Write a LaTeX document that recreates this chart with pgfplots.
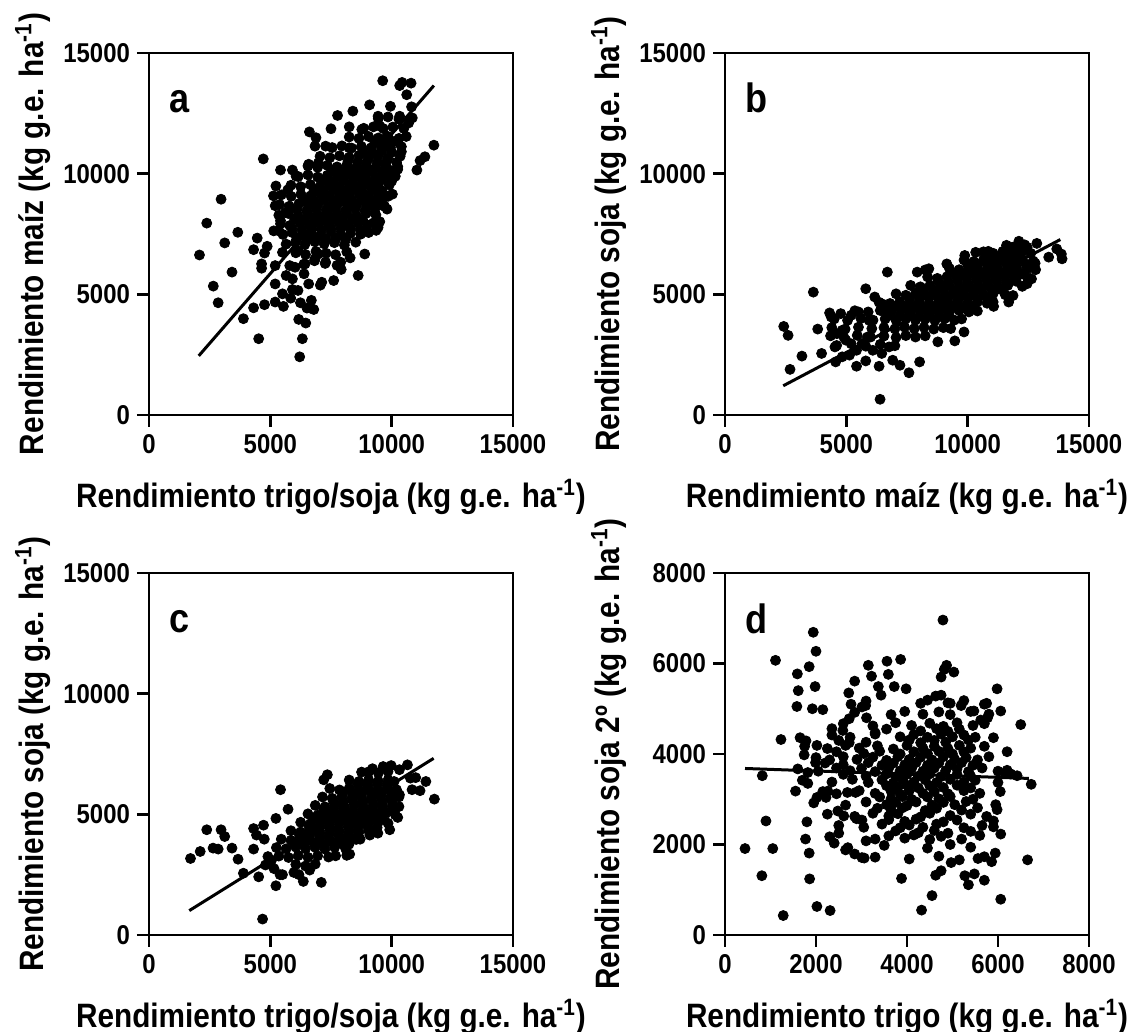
\documentclass[border=0pt]{standalone}
\usepackage{pgfplots}
\pgfplotsset{compat=1.18}
\usepackage{fontspec}
\setmainfont{Liberation Sans}[FakeStretch=0.88]
\begin{document}
\begin{tikzpicture}
\pgfplotsset{
  panel/.style={
    scale only axis, width=182pt, height=181pt,
    axis line style={line width=1.4pt},
    every tick/.style={line width=1.4pt, black},
    tick align=outside, major tick length=6pt,
    xtick pos=bottom, ytick pos=left,
    minor tick num=0, scaled ticks=false,
    /pgf/number format/assume math mode=true,
    /pgf/number format/set thousands separator={},
    tick label style={font=\fontsize{13.6}{15}\selectfont\bfseries},
    every axis y label/.style={at={(axis description cs:-0.3187,0.5)}, rotate=90, anchor=center, font=\fontsize{16.9}{19}\selectfont\bfseries},
    every axis x label/.style={at={(axis description cs:0.5,-0.2265)}, anchor=center, font=\fontsize{16.9}{19}\selectfont\bfseries},
  },
  dots/.style={only marks, mark=*, mark size=2.5pt, black, mark options={draw=black, fill=black}},
  fit/.style={no marks, black, line width=1.5pt},
}
\tikzset{letter/.style={anchor=base west, inner sep=0pt, font=\fontsize{20.5}{22}\selectfont\bfseries, xshift=10pt, yshift=-30pt}}
\useasboundingbox (0,0) rectangle (568pt,516pt);

% ---------------- panel a ----------------
\begin{axis}[panel, at={(74.5pt,308.5pt)}, anchor=south west,
  xmin=0, xmax=15000, ymin=0, ymax=15000,
  xtick={0,5000,10000,15000}, ytick={0,5000,10000,15000},
  xlabel={Rendimiento trigo/soja (kg g.e. ha\textsuperscript{-1})},
  ylabel={Rendimiento maíz (kg g.e. ha\textsuperscript{-1})}]
\addplot[dots] coordinates {
(9630,13850) (10330,13650) (10430,13780) (10800,13750) (10620,13270) (10820,12770) (10850,12310) (10700,12100) (10330,12380) (9950,12790)
(9090,12850) (8400,12590) (7770,12410) (7500,11860) (6610,11730) (6880,11490) (11740,11180) (11370,10700) (11170,10540) (11040,10150)
(10250,10180) (10030,9150) (9810,8530) (9700,8650) (9510,8010) (9440,7770) (9360,7650) (8890,6670) (8620,5780) (8290,6510)
(7900,6330) (7920,6030) (7610,5570) (7120,5500) (7060,5380) (6790,4370) (6650,4430) (6510,4430) (6460,3810) (6170,3960)
(6320,3160) (6210,2410) (6240,4650) (6690,4750) (6580,5430) (6390,5850) (6140,5160) (5910,5200) (5840,4840) (5500,5020)
(5540,4500) (5200,4680) (5200,5430) (4760,4570) (4310,4440) (4520,3160) (3890,3990) (3420,5920) (2850,4650) (2650,5340)
(2080,6630) (2380,7950) (2970,8940) (3120,7130) (3660,7570) (4310,6850) (4460,7330) (4760,6710) (4870,6990) (4640,6260)
(4640,6080) (4710,10610) (5420,10150) (5230,9490) (5130,9080) (5200,8670) (5140,7630) (5420,8050) (5350,7630) (5620,8390)
(5720,9330) (5910,10150) (6060,9900) (6980,10450) (6580,10390) (6840,11140) (7280,11140) (8250,11070) (8250,11940) (8770,11830)
(9510,11970) (9440,12380) (9810,11550)
(5200,6190) (5650,5780) (5800,6190) (6020,6120) (5910,5640) (5500,6740) (6140,6810) (6430,6260) (6840,6470) (7280,6330) (6980,6670)
(6380,6250) (6820,6390) (7260,6280) (7750,6200)
(6050,6720) (6450,6650) (6880,6780) (7300,6700) (7690,6640) (8150,6760)
(5650,7080) (6030,7150) (6420,7060) (6830,7180) (7220,7090) (7640,7140) (8050,7040) (8520,7160)
(5520,7480) (5900,7560) (6300,7450) (6700,7530) (7100,7470) (7500,7580) (7900,7460) (8300,7520) (8720,7490) (9050,7560)
(5420,7920) (5800,7850) (6220,7960) (6610,7880) (7010,7940) (7420,7860) (7810,7970) (8200,7880) (8600,7950) (9000,7870) (9250,7960)
(5350,8280) (5740,8350) (6150,8260) (6560,8330) (6950,8270) (7360,8360) (7760,8280) (8150,8340) (8550,8260) (8950,8350) (9350,8290)
(5380,8720) (5780,8650) (6180,8760) (6570,8680) (6980,8740) (7380,8660) (7780,8750) (8180,8680) (8580,8740) (8980,8660) (9380,8720) (9700,8650)
(5450,9120) (5860,9060) (6260,9150) (6660,9080) (7060,9140) (7460,9060) (7860,9130) (8260,9070) (8660,9150) (9060,9080) (9460,9130) (9850,9060)
(5850,9520) (6250,9460) (6650,9550) (7050,9480) (7450,9540) (7850,9460) (8250,9530) (8650,9470) (9050,9550) (9450,9480) (9900,9530)
(6150,9880) (6550,9950) (6950,9860) (7350,9930) (7750,9870) (8150,9950) (8550,9880) (8950,9940) (9350,9860) (9750,9930) (10150,9890)
(6550,10320) (6950,10260) (7350,10340) (7750,10280) (8150,10350) (8550,10260) (8950,10330) (9350,10270) (9750,10340) (10250,10290)
(7050,10720) (7450,10660) (7850,10740) (8250,10680) (8650,10750) (9050,10670) (9450,10730) (9850,10660) (10350,10720)
(7550,11080) (7950,11150) (8350,11060) (8750,11130) (9150,11070) (9550,11140) (9950,11080) (10400,11120)
(8250,11520) (8650,11460) (9050,11540) (9450,11480) (9850,11530) (10300,11460) (10600,11540)
(8850,11880) (9250,11940) (9650,11870) (10050,11930) (10500,11870)
(9450,12280) (9850,12350) (10300,12260)
(6100,7320) (6500,7270) (6900,7340) (7300,7280) (7700,7330) (8100,7260)
(5900,7720) (6300,7680) (6700,7740) (7100,7670) (7500,7730) (7900,7690) (8300,7720) (8700,7670)
(6000,8120) (6400,8070) (6800,8140) (7200,8080) (7600,8130) (8000,8060) (8400,8120) (8800,8090)
(6100,8520) (6500,8470) (6900,8540) (7300,8480) (7700,8530) (8100,8470) (8500,8540) (8900,8480) (9300,8520)
(6400,8920) (6800,8870) (7200,8940) (7600,8880) (8000,8930) (8400,8870) (8800,8940) (9200,8880) (9600,8910)
(6800,9320) (7200,9270) (7600,9340) (8000,9280) (8400,9330) (8800,9270) (9200,9340) (9600,9290)
(7200,9720) (7600,9670) (8000,9740) (8400,9680) (8800,9730) (9200,9670) (9600,9740) (10000,9690)
(7600,10120) (8000,10070) (8400,10140) (8800,10080) (9200,10130) (9600,10070) (10000,10120)
(8200,10520) (8600,10470) (9000,10540) (9400,10480) (9800,10530) (10200,10470)
(8800,10920) (9200,10870) (9600,10940) (10000,10880) (10400,10910)
(9300,11320) (9700,11270) (10100,11330)
};
\addplot[fit] coordinates {(2050,2450) (11740,13650)};
\node[letter] at (rel axis cs:0,1) {a};
\end{axis}

% ---------------- panel b ----------------
\begin{axis}[panel, at={(362.5pt,308.5pt)}, anchor=south west,
  xmin=0, xmax=15000, ymin=0, ymax=15000,
  xtick={0,5000,10000,15000}, ytick={0,5000,10000,15000},
  xlabel={Rendimiento maíz (kg g.e. ha\textsuperscript{-1})},
  ylabel={Rendimiento soja (kg g.e. ha\textsuperscript{-1})}]
\addplot[dots] coordinates {
(2420,3670) (2600,3300) (2680,1890) (3170,2440) (3640,5090) (3820,3560) (3980,2550) (4310,4230) (4770,4200) (4560,2200)
(5130,2480) (5420,2020) (5800,2240) (6350,2020) (6390,650) (6690,5920) (7210,2060) (7580,1750) (8020,2200) (5800,5230)
(8770,3030) (9470,3070) (9850,3440) (11070,4500) (11690,4680) (11870,4950) (12450,5440) (12630,5640) (12780,6290) (13340,6540)
(13670,6880) (13860,6670) (13890,6470) (12850,7110) (12110,7200) (11840,6950) (12450,6950) (8250,6010) (8400,6060) (7920,5920)
(9140,6260) (9880,6610) (10330,6740) (10850,6780)
(4380,4060) (4610,3370) (4830,3510) (4530,2820) (4980,3100) (5420,2680) (5650,2960) (5870,3230) (6090,2680) (6460,2550)
(6760,2820) (6910,2270) (4830,2410) (5200,4130) (5500,4270) (5940,3920) (6170,4890) (6460,4610) (6610,4340)
(4600,2880) (5200,2950) (5800,2850) (6400,2930) (7000,2870)
(4350,3280) (4900,3220) (5450,3300) (6000,3230) (6550,3270) (7050,3210) (7450,3290) (7850,3230) (8250,3280)
(4400,3620) (4950,3560) (5500,3640) (6050,3580) (6550,3620) (7000,3570) (7400,3640) (7800,3580) (8200,3630) (8600,3560) (9000,3620) (9300,3580)
(4500,3980) (5050,3920) (5600,4000) (6100,3930) (6600,3980) (7050,3920) (7450,3990) (7850,3930) (8250,3970) (8650,3910) (9050,3990) (9450,3930) (9750,3980)
(5350,4320) (5900,4270) (6400,4330) (6850,4260) (7250,4320) (7650,4270) (8050,4340) (8450,4260) (8850,4320) (9250,4270) (9650,4330) (10050,4270) (10400,4310)
(6350,4670) (6800,4620) (7200,4690) (7600,4620) (8000,4680) (8400,4610) (8800,4670) (9200,4630) (9600,4690) (10000,4620) (10400,4680) (10800,4630) (11050,4680)
(7050,5020) (7450,4960) (7850,5040) (8250,4970) (8650,5030) (9050,4960) (9450,5040) (9850,4970) (10250,5030) (10650,4960) (11050,5030) (11550,4980)
(7650,5370) (8050,5310) (8450,5380) (8850,5320) (9250,5380) (9650,5310) (10050,5370) (10450,5310) (10850,5380) (11250,5320) (11650,5370) (12250,5330)
(8350,5720) (8750,5660) (9150,5730) (9550,5670) (9950,5720) (10350,5660) (10750,5730) (11150,5670) (11550,5720) (11950,5660) (12450,5710)
(9250,6070) (9650,6020) (10050,6080) (10450,6010) (10850,6070) (11250,6020) (11650,6080) (12050,6010) (12450,6060) (12800,6020)
(9850,6420) (10250,6360) (10650,6430) (11050,6370) (11450,6420) (11850,6360) (12250,6430) (12700,6380)
(10650,6760) (11050,6700) (11450,6780) (11850,6720) (12250,6770) (12600,6700)
(11600,7030) (12000,6980) (12350,7050)
(6800,4140) (7200,4100) (7600,4150) (8000,4090) (8400,4140) (8800,4100) (9200,4150)
(7000,4490) (7400,4450) (7800,4500) (8200,4440) (8600,4490) (9000,4450) (9400,4500) (9800,4440) (10200,4490)
(7600,4840) (8000,4800) (8400,4850) (8800,4790) (9200,4840) (9600,4800) (10000,4850) (10400,4790) (10800,4840)
(8200,5190) (8600,5150) (9000,5200) (9400,5140) (9800,5190) (10200,5150) (10600,5200) (11000,5140) (11400,5190)
(8800,5540) (9200,5500) (9600,5550) (10000,5490) (10400,5540) (10800,5500) (11200,5550) (11600,5490) (12000,5540)
(9400,5890) (9800,5850) (10200,5900) (10600,5840) (11000,5890) (11400,5850) (11800,5900) (12200,5840)
(10000,6240) (10400,6200) (10800,6250) (11200,6190) (11600,6240) (12000,6200) (12400,6250)
(10800,6590) (11200,6550) (11600,6600) (12000,6540)
};
\addplot[fit] coordinates {(2400,1210) (13820,7270)};
\node[letter] at (rel axis cs:0,1) {b};
\end{axis}

% ---------------- panel c ----------------
\begin{axis}[panel, at={(74.5pt,48.5pt)}, anchor=south west,
  xmin=0, xmax=15000, ymin=0, ymax=15000,
  xtick={0,5000,10000,15000}, ytick={0,5000,10000,15000},
  xlabel={Rendimiento trigo/soja (kg g.e. ha\textsuperscript{-1})},
  ylabel={Rendimiento soja (kg g.e. ha\textsuperscript{-1})}]
\addplot[dots] coordinates {
(1710,3170) (2110,3460) (2380,4360) (2640,3600) (2850,3560) (2970,4360) (3120,4080) (3420,3600) (3670,3140) (3890,2560)
(4310,3560) (4310,4410) (4430,4140) (4520,2410) (4680,660) (4750,3970) (4720,4550) (5230,2040) (5420,6020) (5230,4830)
(5730,5210) (5400,2500) (5500,2500) (5970,2590) (6180,2500) (6360,2220) (6620,2690) (7100,2180) (7690,3280) (8270,3350)
(8240,3760) (7350,6640) (7200,6430) (8760,6750) (9210,6890) (9650,6980) (9980,7020) (10650,7050) (10320,6850) (10770,6500)
(10990,6520) (10840,6020) (11170,5980) (11410,6360) (11760,5630) (10320,5810) (10250,4870) (9920,4360) (9430,4220) (9100,4140)
(8540,3960) (8150,3300) (5050,3100) (4900,3250) (5150,2750) (4800,2900)
(6050,2920) (6450,2860) (6850,2940)
(5350,3270) (5750,3210) (6150,3290) (6550,3220) (6950,3280) (7400,3230)
(5250,3620) (5650,3570) (6050,3640) (6450,3570) (6850,3630) (7250,3560) (7650,3630) (8100,3580)
(5450,3970) (5850,3920) (6250,3990) (6650,3920) (7050,3980) (7450,3910) (7850,3980) (8250,3930) (8700,3970)
(5850,4320) (6250,4270) (6650,4330) (7050,4260) (7450,4330) (7850,4270) (8250,4320) (8650,4260) (9050,4330) (9350,4280)
(6250,4670) (6650,4610) (7050,4680) (7450,4620) (7850,4680) (8250,4610) (8650,4670) (9050,4620) (9450,4680) (9850,4630)
(6550,5020) (6950,4960) (7350,5030) (7750,4970) (8150,5040) (8550,4960) (8950,5030) (9350,4970) (9750,5030) (10150,4980)
(6850,5370) (7250,5310) (7650,5380) (8050,5320) (8450,5380) (8850,5310) (9250,5370) (9650,5320) (10050,5380) (10300,5320)
(7150,5720) (7550,5660) (7950,5730) (8350,5670) (8750,5720) (9150,5660) (9550,5730) (9950,5670) (10300,5720)
(7450,6070) (7850,6010) (8250,6080) (8650,6020) (9050,6070) (9450,6010) (9850,6080) (10200,6020)
(8250,6420) (8650,6360) (9050,6430) (9450,6370) (9850,6420) (10100,6360)
(9050,6760) (9450,6710) (9850,6770)
(6000,3800) (6400,3760) (6800,3810) (7200,3750) (7600,3800) (8000,3760)
(6200,4150) (6600,4110) (7000,4160) (7400,4100) (7800,4150) (8200,4110) (8600,4150)
(6600,4500) (7000,4460) (7400,4510) (7800,4450) (8200,4500) (8600,4460) (9000,4510) (9400,4450)
(6800,4850) (7200,4810) (7600,4860) (8000,4800) (8400,4850) (8800,4810) (9200,4860) (9600,4800)
(7200,5200) (7600,5160) (8000,5210) (8400,5150) (8800,5200) (9200,5160) (9600,5210) (10000,5150)
(7600,5550) (8000,5510) (8400,5560) (8800,5500) (9200,5550) (9600,5510) (10000,5560)
(8000,5900) (8400,5860) (8800,5910) (9200,5850) (9600,5900) (10000,5860)
(8600,6250) (9000,6210) (9400,6260) (9800,6200)
};
\addplot[fit] coordinates {(1660,1010) (11730,7320)};
\node[letter] at (rel axis cs:0,1) {c};
\end{axis}

% ---------------- panel d ----------------
\begin{axis}[panel, at={(362.5pt,48.5pt)}, anchor=south west,
  xmin=0, xmax=8000, ymin=0, ymax=8000,
  xtick={0,2000,4000,6000,8000}, ytick={0,2000,4000,6000,8000},
  xlabel={Rendimiento trigo (kg g.e. ha\textsuperscript{-1})},
  ylabel={Rendimiento soja 2º (kg g.e. ha\textsuperscript{-1})}]
\addplot[dots] coordinates {
(440,1910) (810,1310) (820,3520) (900,2520) (1050,1910) (1110,6070) (1230,4320) (1280,430) (1550,3180) (1580,5050)
(1610,5400) (1590,5770) (1650,4360) (1740,3980) (1780,4290) (1850,5930) (1940,6690) (2000,6270) (1980,5490) (1920,5000)
(2150,4980) (1800,2500) (1770,2120) (1850,1810) (1860,1240) (2020,630) (2310,540) (2020,4190) (1990,3810) (1820,3590)
(1820,3350) (2020,3040) (2220,3040) (2260,3180) (2400,2030) (2500,2250) (2480,2740) (2610,2630) (2650,1880) (2850,1790)
(3010,1710) (3060,1700) (3100,2080) (2890,2570) (3010,2540) (2690,3150) (2870,3150) (2350,4560) (2590,4520) (2730,4250)
(2730,4780) (2770,5100) (2720,5350) (2850,5610) (3010,5040) (3090,5070) (3110,4800) (3150,5960) (3220,5720) (3300,4470)
(3370,5490) (3430,5300) (3560,6050) (3590,5760) (3720,5490) (3860,6090) (3980,5440) (3880,1250) (4320,550) (4550,870)
(4750,1420) (4970,1600) (4630,1320) (5270,1310) (5350,1110) (5480,1350) (5700,1210) (5560,1690) (5860,1620) (6060,790)
(5940,1810) (6060,2230) (5980,2770) (5900,2520) (6650,1660) (6730,3330) (6500,4650) (6200,4050) (6060,4950) (5980,5440)
(5900,4360) (4790,6960) (4820,5870) (4870,5960) (5030,5810) (4750,5700) (4750,5300) (4630,5280) (4950,5120) (5190,5070)
(5470,4950) (5700,5100) (5770,4800) (5620,4750) (6000,3620) (6150,3580) (6280,3560) (6420,3520)
(3300,1720) (4050,1680) (4700,1740) (5150,1660) (5700,1730)
(2700,1930) (3500,1980) (4450,1920) (4950,2000) (5400,1940)
(2300,2170) (3300,2120) (3600,2190) (3950,2140) (4150,2210) (4500,2110) (4750,2180) (5200,2120) (5600,2200)
(2500,2420) (3050,2380) (3450,2450) (3850,2370) (4050,2430) (4350,2380) (4650,2450) (5250,2370) (5650,2420) (5900,2390)
(2250,2670) (2850,2620) (3250,2690) (3600,2630) (3800,2680) (4300,2610) (4500,2690) (4950,2640) (5400,2670) (5750,2620)
(1950,2920) (2650,2870) (3100,2940) (3550,2880) (3750,2930) (4000,2860) (4200,2940) (4550,2870) (4800,2930) (5050,2880) (5300,2950) (5950,2880)
(2150,3170) (2450,3120) (2950,3190) (3300,3130) (3650,3180) (3850,3110) (4050,3190) (4350,3130) (4600,3170) (4900,3120) (5250,3190) (5600,3130) (6050,3170)
(1700,3420) (2350,3380) (2800,3440) (3150,3370) (3450,3430) (3700,3360) (3900,3440) (4150,3380) (4400,3430) (4650,3370) (4950,3440) (5250,3380) (5500,3420) (6000,3370)
(1600,3670) (2050,3620) (2450,3690) (2750,3630) (3000,3680) (3300,3610) (3600,3690) (3850,3630) (4100,3680) (4350,3620) (4600,3690) (4850,3630) (5100,3670) (5350,3610) (5650,3690) (6200,3640)
(2000,3920) (2300,3870) (2600,3940) (2900,3880) (3250,3930) (3550,3860) (3800,3940) (4050,3880) (4300,3930) (4550,3870) (4800,3940) (5050,3880) (5300,3920) (5550,3870) (5800,3940)
(1750,4170) (2250,4120) (2650,4190) (2950,4130) (3350,4180) (3700,4110) (4000,4190) (4350,4130) (4600,4170) (4900,4120) (5150,4190) (5400,4130) (5700,4170)
(2350,4420) (2750,4370) (3300,4440) (3850,4380) (4150,4430) (4450,4370) (4750,4440) (5000,4380) (5250,4420) (5500,4370)
(2600,4670) (3250,4620) (3750,4690) (4100,4630) (4500,4680) (4800,4610) (5100,4690) (5450,4630) (5700,4670)
(2850,4920) (3650,4870) (3950,4940) (4350,4880) (4700,4930) (4950,4870) (5400,4940) (5800,4880)
(3100,5170) (4300,5120) (4450,5190) (4900,5130) (5250,5180) (5750,5120)
(3750,2300) (4250,2260) (4600,2310) (4900,2250) (5400,2290)
(3600,2550) (3950,2510) (4200,2560) (4800,2500) (5100,2540)
(3350,2800) (3650,2760) (3900,2810) (4400,2750) (4650,2800) (5200,2760) (5550,2810)
(3400,3050) (3650,3010) (3900,3060) (4100,3000) (4450,3050) (4700,3010) (4950,3060) (5450,3000)
(3550,3300) (3800,3260) (4000,3310) (4250,3250) (4500,3300) (4800,3260) (5100,3310) (5400,3250)
(2600,3550) (3100,3510) (3550,3560) (3750,3500) (4000,3550) (4250,3510) (4500,3560) (4750,3500) (5100,3550) (5400,3510)
(2200,3800) (2600,3760) (3150,3810) (3450,3750) (3700,3800) (3950,3760) (4200,3810) (4450,3750) (4700,3800) (4950,3760) (5200,3810) (5450,3750)
(2450,4050) (3050,4010) (3400,4060) (3850,4000) (4150,4050) (4450,4010) (4700,4060) (5000,4000) (5250,4050)
(2500,4300) (3100,4260) (4050,4310) (4300,4250) (4600,4300) (4850,4260) (5350,4310)
(3550,4550) (4300,4510) (4650,4560) (4900,4500) (5150,4550)
};
\addplot[fit] coordinates {(440,3680) (6680,3460)};
\node[letter] at (rel axis cs:0,1) {d};
\end{axis}
\end{tikzpicture}
\end{document}
